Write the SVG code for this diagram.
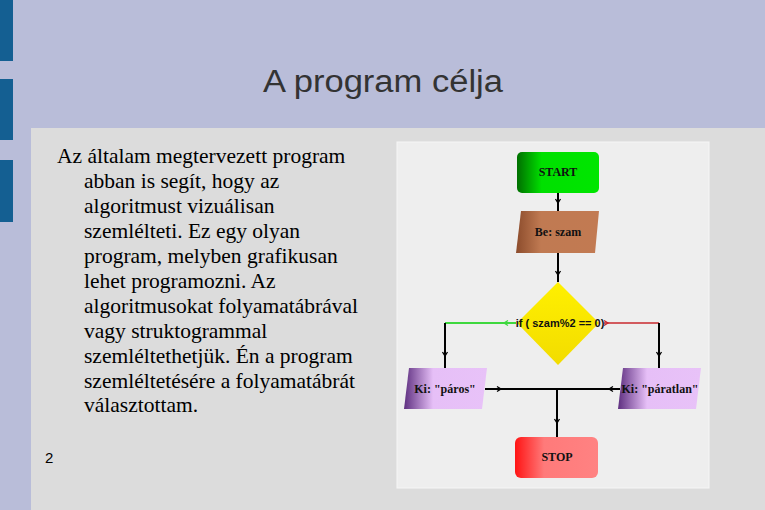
<svg xmlns="http://www.w3.org/2000/svg" xmlns:xlink="http://www.w3.org/1999/xlink" width="765" height="510" viewBox="0 0 765 510">
<style>
.body{font-family:"Liberation Serif","Times New Roman",serif;font-size:21.5px;fill:#000}
.lbl{font-family:"Liberation Serif","Times New Roman",serif;font-weight:bold;font-size:12px;fill:#111;text-anchor:middle}
.cond{font-family:"Liberation Sans",Arial,sans-serif;font-weight:bold;font-size:11px;fill:#111;text-anchor:middle}
.ln{fill:none;stroke:#000;stroke-width:2}
.ch{fill:none;stroke:#000;stroke-width:1.3}
</style>
<defs>
<linearGradient id="gGreen" x1="0" x2="1" y1="0" y2="0"><stop offset="0" stop-color="#006f00"/><stop offset="0.3" stop-color="#00e000"/><stop offset="1" stop-color="#00e600"/></linearGradient>
<linearGradient id="gBrown" x1="0" x2="1" y1="0" y2="0"><stop offset="0" stop-color="#8c4c2c"/><stop offset="0.3" stop-color="#c07a52"/><stop offset="1" stop-color="#c27a52"/></linearGradient>
<linearGradient id="gPurple" x1="0" x2="1" y1="0" y2="0"><stop offset="0" stop-color="#5e2f80"/><stop offset="0.35" stop-color="#e6bff7"/><stop offset="1" stop-color="#e8c2f8"/></linearGradient>
<linearGradient id="gRed" x1="0" x2="1" y1="0" y2="0"><stop offset="0" stop-color="#ff1414"/><stop offset="0.35" stop-color="#ff7a7a"/><stop offset="1" stop-color="#ff8282"/></linearGradient>
<linearGradient id="gYellow" x1="0" x2="0" y1="0" y2="1"><stop offset="0" stop-color="#fff000"/><stop offset="1" stop-color="#f2dc00"/></linearGradient>
<path id="chev" d="M-2.5,-4 L0,0 L2.5,-4"/>
</defs>
<!-- slide background -->
<rect x="0" y="0" width="765" height="510" fill="#b9bdd9"/>
<rect x="0" y="0" width="13" height="61" fill="#145f92"/>
<rect x="0" y="79" width="13" height="61" fill="#145f92"/>
<rect x="0" y="160" width="13" height="62" fill="#145f92"/>
<rect x="31" y="128" width="734" height="382" fill="#dcdcdc"/>
<text x="383" y="92" text-anchor="middle" font-family="Liberation Sans,Arial,sans-serif" font-size="31" fill="#333" textLength="240" lengthAdjust="spacingAndGlyphs">A program célja</text>
<g id="bodytext">
<text class="body" x="57" y="163">Az általam megtervezett program</text>
<text class="body" x="84" y="188">abban is segít, hogy az</text>
<text class="body" x="84" y="213">algoritmust vizuálisan</text>
<text class="body" x="84" y="238">szemlélteti. Ez egy olyan</text>
<text class="body" x="84" y="263">program, melyben grafikusan</text>
<text class="body" x="84" y="288">lehet programozni. Az</text>
<text class="body" x="84" y="313">algoritmusokat folyamatábrával</text>
<text class="body" x="84" y="338">vagy struktogrammal</text>
<text class="body" x="84" y="363">szemléltethetjük. Én a program</text>
<text class="body" x="84" y="388">szemléltetésére a folyamatábrát</text>
<text class="body" x="84" y="412">választottam.</text>
</g>
<text x="45" y="463" font-family="Liberation Sans,Arial,sans-serif" font-size="15" fill="#000">2</text>
<!-- flowchart panel -->
<rect x="397" y="142" width="312" height="346" fill="#eeeeee" stroke="#f6f6f6" stroke-width="1"/>
<g id="connectors">
<path class="ln" d="M558 193 V211"/>
<path class="ln" d="M558 253 V282"/>
<path d="M516 323 H445" fill="none" stroke="#3ed83e" stroke-width="2"/>
<path class="ln" d="M445 323 V368" stroke-width="1.5"/>
<path d="M604 323 H659" fill="none" stroke="#c8282e" stroke-width="1.5"/>
<path class="ln" d="M659 323 V368"/>
<path class="ln" d="M485 389 H620" stroke-width="1.5"/>
<path class="ln" d="M557 389 V437" stroke-width="1.5"/>
<use xlink:href="#chev" class="ch" transform="translate(558,203)"/>
<use xlink:href="#chev" class="ch" transform="translate(558,275)"/>
<use xlink:href="#chev" fill="none" stroke="#3ed83e" stroke-width="1.3" transform="translate(504,323) rotate(90)"/>
<use xlink:href="#chev" fill="none" stroke="#c8282e" stroke-width="1.3" transform="translate(608,323) rotate(-90)"/>
<use xlink:href="#chev" class="ch" transform="translate(445,356)"/>
<use xlink:href="#chev" class="ch" transform="translate(659,356)"/>
<use xlink:href="#chev" class="ch" transform="translate(501,389) rotate(-90)"/>
<use xlink:href="#chev" class="ch" transform="translate(609,389) rotate(90)"/>
<use xlink:href="#chev" class="ch" transform="translate(557,423)"/>
</g>
<g id="start">
<rect x="517" y="152" width="82" height="41" rx="5" fill="url(#gGreen)"/>
<text class="lbl" x="558" y="176" font-size="11" fill="#1a3a1a">START</text>
</g>
<g id="input">
<polygon points="521,211 599,211 595,253 516,253" fill="url(#gBrown)"/>
<text class="lbl" x="558" y="236">Be: szam</text>
</g>
<g id="decision">
<polygon points="558,282 599,323 558,365 517,323" fill="url(#gYellow)"/>
<text class="cond" x="560" y="327">if ( szam%2 == 0)</text>
</g>
<g id="out-even">
<polygon points="409,368 487,368 482,409 404,409" fill="url(#gPurple)"/>
<text class="lbl" x="445" y="393">Ki: "páros"</text>
</g>
<g id="out-odd">
<polygon points="623,368 701,368 696,409 618,409" fill="url(#gPurple)"/>
<text class="lbl" x="660" y="393">Ki: "páratlan"</text>
</g>
<g id="stop">
<rect x="515" y="437" width="83" height="41" rx="6" fill="url(#gRed)"/>
<text class="lbl" x="557" y="461">STOP</text>
</g>
</svg>
